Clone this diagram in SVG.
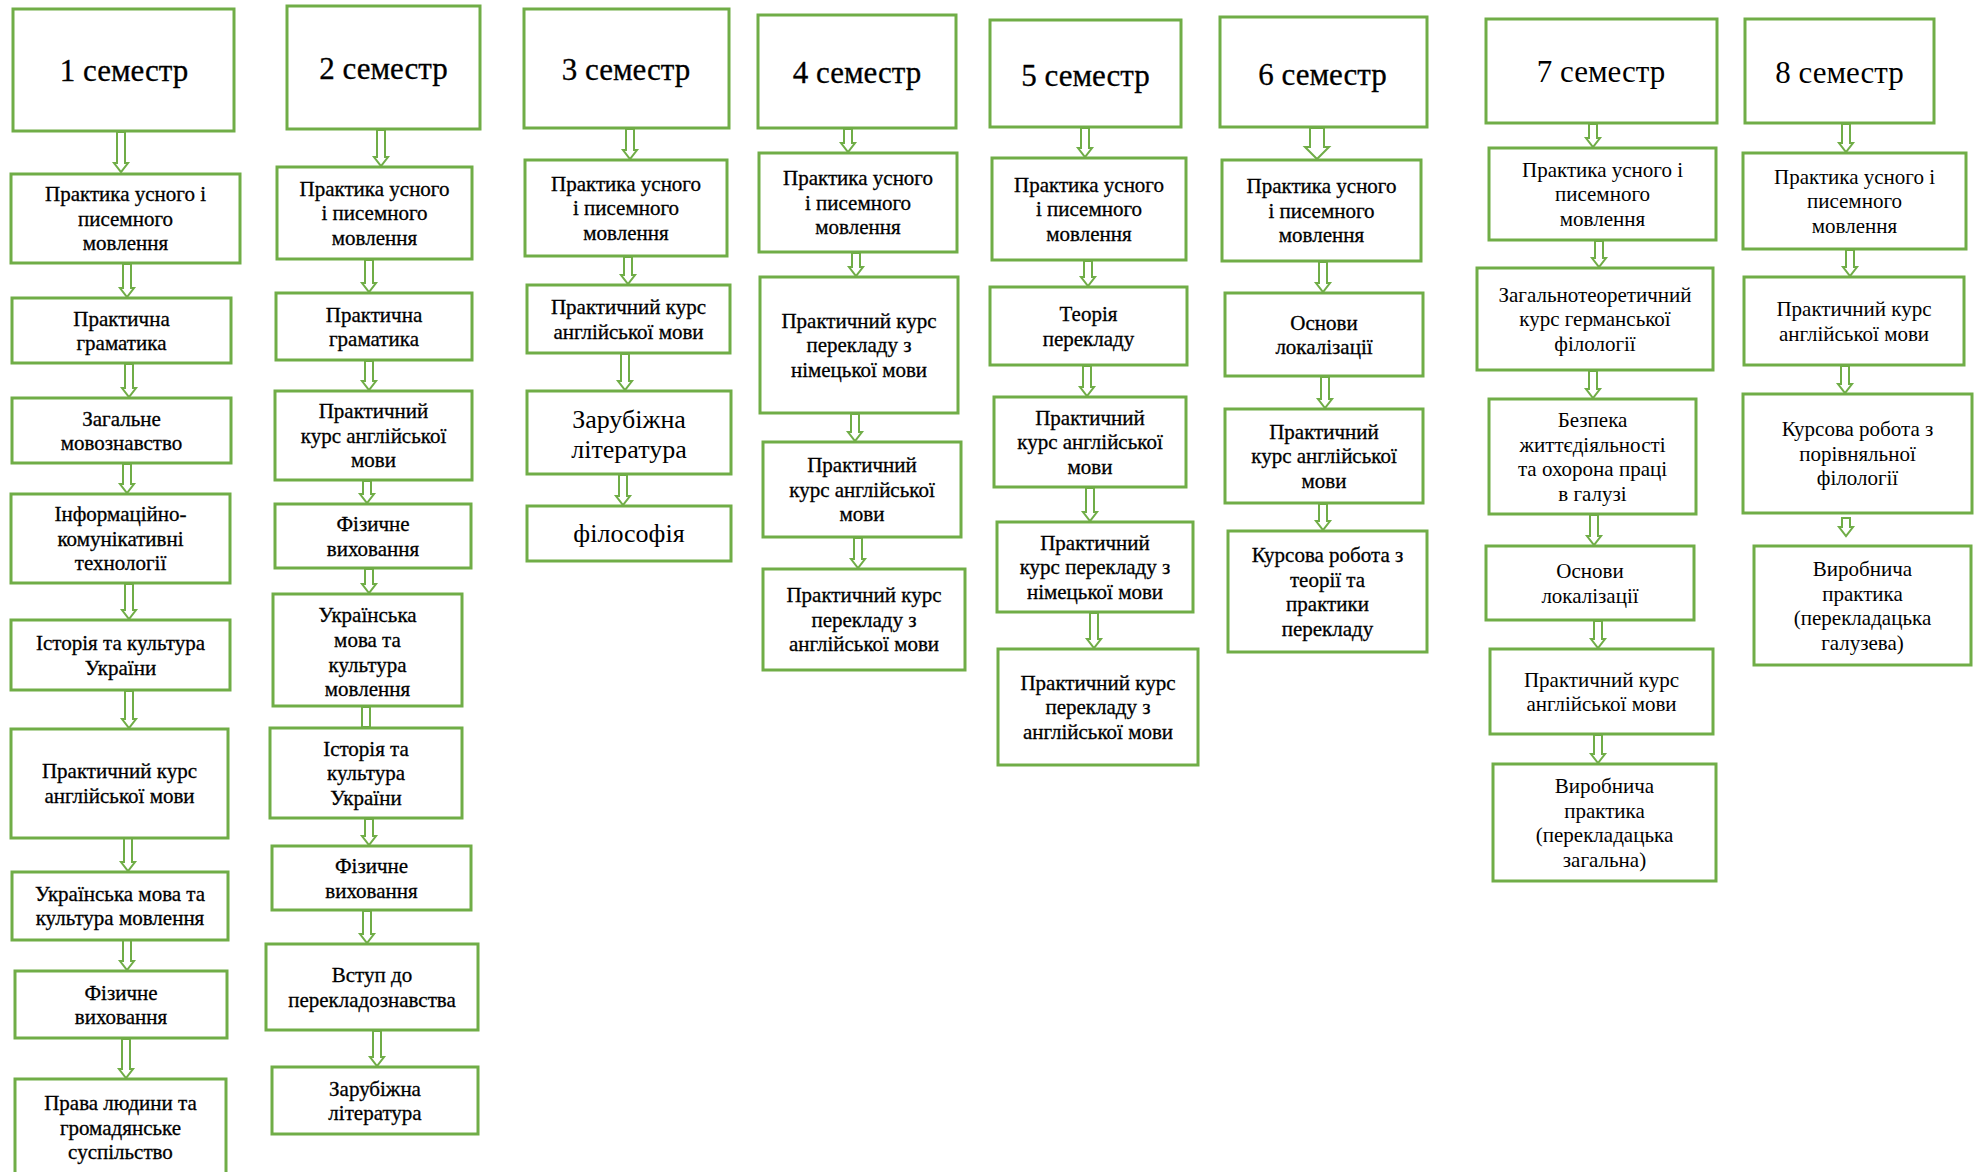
<svg xmlns="http://www.w3.org/2000/svg" width="1975" height="1172" viewBox="0 0 1975 1172">
<style>
.box{fill:#fff;stroke:#70ad47;stroke-width:3}
.arr{fill:#fff;stroke:#70ad47;stroke-width:2;stroke-linejoin:miter}
text{font-family:"Liberation Serif","Times New Roman",serif;fill:#000;text-anchor:middle}
.t{font-size:21px}
.h{font-size:31px}
.b{font-size:26px}
.k{stroke:#000;stroke-width:0.3}
</style>
<rect width="1975" height="1172" fill="#fff"/>
<g id="connectors">
<path class="arr" d="M117 132 V163 H114 L121 172 L128 163 H125 V132 Z"/>
<path class="arr" d="M123 264 V288 H120 L127 297 L134 288 H131 V264 Z"/>
<path class="arr" d="M125 364 V388 H122 L129 397 L136 388 H133 V364 Z"/>
<path class="arr" d="M123 464 V484 H120 L127 493 L134 484 H131 V464 Z"/>
<path class="arr" d="M125 584 V610 H122 L129 619 L136 610 H133 V584 Z"/>
<path class="arr" d="M125 691 V719 H122 L129 728 L136 719 H133 V691 Z"/>
<path class="arr" d="M124 838 V862 H121 L128 871 L135 862 H132 V838 Z"/>
<path class="arr" d="M123 940 V961 H120 L127 970 L134 961 H131 V940 Z"/>
<path class="arr" d="M122 1039 V1069 H119 L126 1078 L133 1069 H130 V1039 Z"/>
<path class="arr" d="M377 130 V157 H374 L381 166 L388 157 H385 V130 Z"/>
<path class="arr" d="M365 260 V283 H362 L369 292 L376 283 H373 V260 Z"/>
<path class="arr" d="M365 361 V381 H362 L369 390 L376 381 H373 V361 Z"/>
<path class="arr" d="M363 481 V494 H360 L367 503 L374 494 H371 V481 Z"/>
<path class="arr" d="M365 569 V584 H362 L369 593 L376 584 H373 V569 Z"/>
<path class="arr" d="M362 707 V727 H370 V707 Z"/>
<path class="arr" d="M365 819 V836 H362 L369 845 L376 836 H373 V819 Z"/>
<path class="arr" d="M363 911 V934 H360 L367 943 L374 934 H371 V911 Z"/>
<path class="arr" d="M373 1031 V1057 H370 L377 1066 L384 1057 H381 V1031 Z"/>
<path class="arr" d="M626 129 V150 H623 L630 159 L637 150 H634 V129 Z"/>
<path class="arr" d="M624 257 V275 H621 L628 284 L635 275 H632 V257 Z"/>
<path class="arr" d="M621 354 V381 H618 L625 390 L632 381 H629 V354 Z"/>
<path class="arr" d="M619 475 V496 H616 L623 505 L630 496 H627 V475 Z"/>
<path class="arr" d="M844 129 V143 H841 L848 152 L855 143 H852 V129 Z"/>
<path class="arr" d="M852 253 V267 H849 L856 276 L863 267 H860 V253 Z"/>
<path class="arr" d="M851 414 V432 H848 L855 441 L862 432 H859 V414 Z"/>
<path class="arr" d="M854 538 V559 H851 L858 568 L865 559 H862 V538 Z"/>
<path class="arr" d="M1081 128 V148 H1078 L1085 157 L1092 148 H1089 V128 Z"/>
<path class="arr" d="M1084 261 V277 H1081 L1088 286 L1095 277 H1092 V261 Z"/>
<path class="arr" d="M1083 366 V387 H1080 L1087 396 L1094 387 H1091 V366 Z"/>
<path class="arr" d="M1086 488 V512 H1083 L1090 521 L1097 512 H1094 V488 Z"/>
<path class="arr" d="M1090 613 V639 H1087 L1094 648 L1101 639 H1098 V613 Z"/>
<path class="arr" d="M1310 128 V147 H1305 L1317 159 L1329 147 H1324 V128 Z"/>
<path class="arr" d="M1319 262 V283 H1316 L1323 292 L1330 283 H1327 V262 Z"/>
<path class="arr" d="M1321 377 V399 H1318 L1325 408 L1332 399 H1329 V377 Z"/>
<path class="arr" d="M1319 504 V521 H1316 L1323 530 L1330 521 H1327 V504 Z"/>
<path class="arr" d="M1589 124 V138 H1586 L1593 147 L1600 138 H1597 V124 Z"/>
<path class="arr" d="M1595 241 V258 H1592 L1599 267 L1606 258 H1603 V241 Z"/>
<path class="arr" d="M1589 371 V389 H1586 L1593 398 L1600 389 H1597 V371 Z"/>
<path class="arr" d="M1590 515 V536 H1587 L1594 545 L1601 536 H1598 V515 Z"/>
<path class="arr" d="M1594 621 V639 H1591 L1598 648 L1605 639 H1602 V621 Z"/>
<path class="arr" d="M1594 735 V754 H1591 L1598 763 L1605 754 H1602 V735 Z"/>
<path class="arr" d="M1842 124 V143 H1839 L1846 152 L1853 143 H1850 V124 Z"/>
<path class="arr" d="M1846 250 V267 H1843 L1850 276 L1857 267 H1854 V250 Z"/>
<path class="arr" d="M1841 366 V384 H1838 L1845 393 L1852 384 H1849 V366 Z"/>
<path class="arr" d="M1842 518 V527 H1839 L1846 536 L1853 527 H1850 V518 Z"/>
</g>

<!-- Column 1 -->
<g id="s1"><rect class="box" x="13" y="9" width="221" height="122"/><text class="h k" x="124" y="81">1 семестр</text></g>
<g id="s1n1"><rect class="box" x="11" y="174" width="229" height="89"/><text class="t k"><tspan x="125.5" y="201">Практика усного і</tspan><tspan x="125.5" y="225.5">писемного</tspan><tspan x="125.5" y="250">мовлення</tspan></text></g>
<g id="s1n2"><rect class="box" x="12" y="298" width="219" height="65"/><text class="t k"><tspan x="121.5" y="325.5">Практична</tspan><tspan x="121.5" y="350">граматика</tspan></text></g>
<g id="s1n3"><rect class="box" x="12" y="398" width="219" height="65"/><text class="t k"><tspan x="121.5" y="425.5">Загальне</tspan><tspan x="121.5" y="450">мовознавство</tspan></text></g>
<g id="s1n4"><rect class="box" x="11" y="494" width="219" height="89"/><text class="t k"><tspan x="120.5" y="521.3">Інформаційно-</tspan><tspan x="120.5" y="545.8">комунікативні</tspan><tspan x="120.5" y="570.3">технології</tspan></text></g>
<g id="s1n5"><rect class="box" x="11" y="620" width="219" height="70"/><text class="t k"><tspan x="120.5" y="650">Історія та культура</tspan><tspan x="120.5" y="674.5">України</tspan></text></g>
<g id="s1n6"><rect class="box" x="11" y="729" width="217" height="109"/><text class="t k"><tspan x="119.5" y="778">Практичний курс</tspan><tspan x="119.5" y="802.5">англійської мови</tspan></text></g>
<g id="s1n7"><rect class="box" x="12" y="872" width="216" height="68"/><text class="t k"><tspan x="120" y="900.5">Українська мова та</tspan><tspan x="120" y="925">культура мовлення</tspan></text></g>
<g id="s1n8"><rect class="box" x="15" y="971" width="212" height="67"/><text class="t k"><tspan x="121" y="999.5">Фізичне</tspan><tspan x="121" y="1024">виховання</tspan></text></g>
<g id="s1n9"><rect class="box" x="15" y="1079" width="211" height="120"/><text class="t k"><tspan x="120.5" y="1110">Права людини та</tspan><tspan x="120.5" y="1134.5">громадянське</tspan><tspan x="120.5" y="1159">суспільство</tspan></text></g>

<!-- Column 2 -->
<g id="s2"><rect class="box" x="287" y="6" width="193" height="123"/><text class="h k" x="383.5" y="78.5">2 семестр</text></g>
<g id="s2n1"><rect class="box" x="277" y="167" width="195" height="92"/><text class="t k"><tspan x="374.5" y="195.8">Практика усного</tspan><tspan x="374.5" y="220.3">і писемного</tspan><tspan x="374.5" y="244.8">мовлення</tspan></text></g>
<g id="s2n2"><rect class="box" x="276" y="293" width="196" height="67"/><text class="t k"><tspan x="374" y="321.5">Практична</tspan><tspan x="374" y="346">граматика</tspan></text></g>
<g id="s2n3"><rect class="box" x="275" y="391" width="197" height="89"/><text class="t k"><tspan x="373.5" y="418.3">Практичний</tspan><tspan x="373.5" y="442.8">курс англійської</tspan><tspan x="373.5" y="467.3">мови</tspan></text></g>
<g id="s2n4"><rect class="box" x="275" y="504" width="196" height="64"/><text class="t k"><tspan x="373" y="531">Фізичне</tspan><tspan x="373" y="555.5">виховання</tspan></text></g>
<g id="s2n5"><rect class="box" x="273" y="594" width="189" height="112"/><text class="t k"><tspan x="367.5" y="622">Українська</tspan><tspan x="367.5" y="647">мова та</tspan><tspan x="367.5" y="671.5">культура</tspan><tspan x="367.5" y="696">мовлення</tspan></text></g>
<g id="s2n6"><rect class="box" x="270" y="728" width="192" height="90"/><text class="t k"><tspan x="366" y="755.8">Історія та</tspan><tspan x="366" y="780.3">культура</tspan><tspan x="366" y="804.8">України</tspan></text></g>
<g id="s2n7"><rect class="box" x="272" y="846" width="199" height="64"/><text class="t k"><tspan x="371.5" y="873">Фізичне</tspan><tspan x="371.5" y="897.5">виховання</tspan></text></g>
<g id="s2n8"><rect class="box" x="266" y="944" width="212" height="86"/><text class="t k"><tspan x="372" y="982">Вступ до</tspan><tspan x="372" y="1006.5">перекладознавства</tspan></text></g>
<g id="s2n9"><rect class="box" x="272" y="1067" width="206" height="67"/><text class="t k"><tspan x="375" y="1095.5">Зарубіжна</tspan><tspan x="375" y="1120">література</tspan></text></g>

<!-- Column 3 -->
<g id="s3"><rect class="box" x="524" y="9" width="205" height="119"/><text class="h k" x="626" y="79.5">3 семестр</text></g>
<g id="s3n1"><rect class="box" x="525" y="160" width="202" height="96"/><text class="t k"><tspan x="626" y="190.8">Практика усного</tspan><tspan x="626" y="215.3">і писемного</tspan><tspan x="626" y="239.8">мовлення</tspan></text></g>
<g id="s3n2"><rect class="box" x="527" y="285" width="203" height="68"/><text class="t k"><tspan x="628.5" y="314">Практичний курс</tspan><tspan x="628.5" y="338.5">англійської мови</tspan></text></g>
<g id="s3n3"><rect class="box" x="527" y="391" width="204" height="83"/><text class="b"><tspan x="629" y="428">Зарубіжна</tspan><tspan x="629" y="457.6">література</tspan></text></g>
<g id="s3n4"><rect class="box" x="527" y="506" width="204" height="55"/><text class="b" x="629" y="542">філософія</text></g>

<!-- Column 4 -->
<g id="s4"><rect class="box" x="758" y="15" width="198" height="113"/><text class="h k" x="857" y="82.6">4 семестр</text></g>
<g id="s4n1"><rect class="box" x="759" y="153" width="198" height="99"/><text class="t k"><tspan x="858" y="185.3">Практика усного</tspan><tspan x="858" y="209.8">і писемного</tspan><tspan x="858" y="234.3">мовлення</tspan></text></g>
<g id="s4n2"><rect class="box" x="760" y="277" width="198" height="136"/><text class="t k"><tspan x="859" y="327.8">Практичний курс</tspan><tspan x="859" y="352.3">перекладу з</tspan><tspan x="859" y="376.8">німецької мови</tspan></text></g>
<g id="s4n3"><rect class="box" x="763" y="442" width="198" height="95"/><text class="t k"><tspan x="862" y="472.3">Практичний</tspan><tspan x="862" y="496.8">курс англійської</tspan><tspan x="862" y="521.3">мови</tspan></text></g>
<g id="s4n4"><rect class="box" x="763" y="569" width="202" height="101"/><text class="t k"><tspan x="864" y="602.3">Практичний курс</tspan><tspan x="864" y="626.8">перекладу з</tspan><tspan x="864" y="651.3">англійської мови</tspan></text></g>

<!-- Column 5 -->
<g id="s5"><rect class="box" x="990" y="20" width="191" height="107"/><text class="h k" x="1085.5" y="85.6">5 семестр</text></g>
<g id="s5n1"><rect class="box" x="992" y="158" width="194" height="102"/><text class="t k"><tspan x="1089" y="191.8">Практика усного</tspan><tspan x="1089" y="216.3">і писемного</tspan><tspan x="1089" y="240.8">мовлення</tspan></text></g>
<g id="s5n2"><rect class="box" x="990" y="287" width="197" height="78"/><text class="t k"><tspan x="1088.5" y="321">Теорія</tspan><tspan x="1088.5" y="345.5">перекладу</tspan></text></g>
<g id="s5n3"><rect class="box" x="994" y="397" width="192" height="90"/><text class="t k"><tspan x="1090" y="424.8">Практичний</tspan><tspan x="1090" y="449.3">курс англійської</tspan><tspan x="1090" y="473.8">мови</tspan></text></g>
<g id="s5n4"><rect class="box" x="997" y="522" width="196" height="90"/><text class="t k"><tspan x="1095" y="549.8">Практичний</tspan><tspan x="1095" y="574.3">курс перекладу з</tspan><tspan x="1095" y="598.8">німецької мови</tspan></text></g>
<g id="s5n5"><rect class="box" x="998" y="649" width="200" height="116"/><text class="t k"><tspan x="1098" y="689.8">Практичний курс</tspan><tspan x="1098" y="714.3">перекладу з</tspan><tspan x="1098" y="738.8">англійської мови</tspan></text></g>

<!-- Column 6 -->
<g id="s6"><rect class="box" x="1220" y="17" width="207" height="110"/><text class="h k" x="1322.5" y="84.6">6 семестр</text></g>
<g id="s6n1"><rect class="box" x="1222" y="160" width="199" height="101"/><text class="t k"><tspan x="1321.5" y="193.3">Практика усного</tspan><tspan x="1321.5" y="217.8">і писемного</tspan><tspan x="1321.5" y="242.3">мовлення</tspan></text></g>
<g id="s6n2"><rect class="box" x="1225" y="293" width="198" height="83"/><text class="t k"><tspan x="1324" y="329.5">Основи</tspan><tspan x="1324" y="354">локалізації</tspan></text></g>
<g id="s6n3"><rect class="box" x="1225" y="409" width="198" height="94"/><text class="t k"><tspan x="1324" y="438.8">Практичний</tspan><tspan x="1324" y="463.3">курс англійської</tspan><tspan x="1324" y="487.8">мови</tspan></text></g>
<g id="s6n4"><rect class="box" x="1228" y="531" width="199" height="121"/><text class="t k"><tspan x="1327.5" y="562">Курсова робота з</tspan><tspan x="1327.5" y="586.5">теорії та</tspan><tspan x="1327.5" y="611">практики</tspan><tspan x="1327.5" y="635.5">перекладу</tspan></text></g>

<!-- Column 7 -->
<g id="s7"><rect class="box" x="1486" y="19" width="231" height="104"/><text class="h" x="1601" y="82.3">7 семестр</text></g>
<g id="s7n1"><rect class="box" x="1489" y="148" width="227" height="92"/><text class="t"><tspan x="1602.5" y="176.8">Практика усного і</tspan><tspan x="1602.5" y="201.3">писемного</tspan><tspan x="1602.5" y="225.8">мовлення</tspan></text></g>
<g id="s7n2"><rect class="box" x="1477" y="268" width="236" height="102"/><text class="t"><tspan x="1595" y="301.8">Загальнотеоретичний</tspan><tspan x="1595" y="326.3">курс германської</tspan><tspan x="1595" y="350.8">філології</tspan></text></g>
<g id="s7n3"><rect class="box" x="1489" y="399" width="207" height="115"/><text class="t"><tspan x="1592.5" y="427">Безпека</tspan><tspan x="1592.5" y="451.5">життєдіяльності</tspan><tspan x="1592.5" y="476">та охорона праці</tspan><tspan x="1592.5" y="500.5">в галузі</tspan></text></g>
<g id="s7n4"><rect class="box" x="1486" y="546" width="208" height="74"/><text class="t"><tspan x="1590" y="578">Основи</tspan><tspan x="1590" y="602.5">локалізації</tspan></text></g>
<g id="s7n5"><rect class="box" x="1490" y="649" width="223" height="85"/><text class="t"><tspan x="1601.5" y="686.5">Практичний курс</tspan><tspan x="1601.5" y="711">англійської мови</tspan></text></g>
<g id="s7n6"><rect class="box" x="1493" y="764" width="223" height="117"/><text class="t"><tspan x="1604.5" y="793">Виробнича</tspan><tspan x="1604.5" y="817.5">практика</tspan><tspan x="1604.5" y="842">(перекладацька</tspan><tspan x="1604.5" y="866.5">загальна)</tspan></text></g>

<!-- Column 8 -->
<g id="s8"><rect class="box" x="1745" y="19" width="189" height="104"/><text class="h" x="1839.5" y="83.4">8 семестр</text></g>
<g id="s8n1"><rect class="box" x="1743" y="153" width="223" height="96"/><text class="t"><tspan x="1854.5" y="183.8">Практика усного і</tspan><tspan x="1854.5" y="208.3">писемного</tspan><tspan x="1854.5" y="232.8">мовлення</tspan></text></g>
<g id="s8n2"><rect class="box" x="1744" y="277" width="220" height="88"/><text class="t"><tspan x="1854" y="316">Практичний курс</tspan><tspan x="1854" y="340.5">англійської мови</tspan></text></g>
<g id="s8n3"><rect class="box" x="1743" y="394" width="229" height="119"/><text class="t"><tspan x="1857.5" y="436.3">Курсова робота з</tspan><tspan x="1857.5" y="460.8">порівняльної</tspan><tspan x="1857.5" y="485.3">філології</tspan></text></g>
<g id="s8n4"><rect class="box" x="1754" y="546" width="217" height="119"/><text class="t"><tspan x="1862.5" y="576">Виробнича</tspan><tspan x="1862.5" y="600.5">практика</tspan><tspan x="1862.5" y="625">(перекладацька</tspan><tspan x="1862.5" y="649.5">галузева)</tspan></text></g>
</svg>
